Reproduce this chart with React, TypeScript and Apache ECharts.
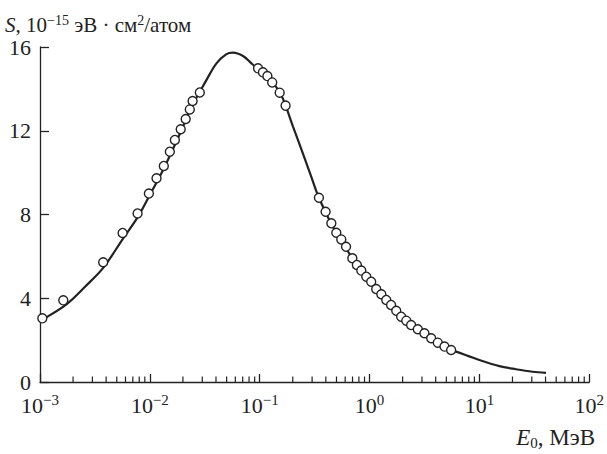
import React, { useEffect, useRef } from "react";
import * as echarts from "echarts";

// Smooth curve (E0 in MeV, S in 1e-15 eV·cm²/atom)
const curveE = [0.00115, 0.00175, 0.00257, 0.00376, 0.0057, 0.0077, 0.0098, 0.0134, 0.0191, 0.0245, 0.0285, 0.0327, 0.0404, 0.0498, 0.0571, 0.0705, 0.084, 0.0966, 0.1175, 0.152, 0.172, 0.201, 0.248, 0.295, 0.346, 0.449, 0.553, 0.697, 0.841, 1.035, 1.28, 1.57, 1.94, 2.39, 3.16, 4.18, 5.53, 6.13, 10, 15.2, 21.5, 30.5, 40.4];
const curveS = [3.1, 3.72, 4.55, 5.45, 6.85, 7.85, 8.85, 10.2, 11.95, 13.25, 13.85, 14.42, 15.22, 15.66, 15.73, 15.57, 15.22, 14.95, 14.6, 13.85, 13.2, 12.2, 10.9, 9.8, 8.8, 7.55, 6.78, 5.9, 5.3, 4.78, 4.18, 3.68, 3.12, 2.72, 2.33, 1.88, 1.53, 1.45, 1.05, 0.76, 0.61, 0.49, 0.44];

// Experimental points
const pointE = [0.00105, 0.00163, 0.00376, 0.00565, 0.00773, 0.0098, 0.0115, 0.0134, 0.0152, 0.0169, 0.0191, 0.0212, 0.0231, 0.0245, 0.0285, 0.0966, 0.107, 0.1175, 0.13, 0.152, 0.172, 0.346, 0.398, 0.449, 0.498, 0.553, 0.611, 0.697, 0.767, 0.841, 0.934, 1.035, 1.15, 1.28, 1.42, 1.57, 1.75, 1.94, 2.16, 2.39, 2.75, 3.16, 3.64, 4.18, 4.81, 5.53];
const pointS = [3.04, 3.9, 5.72, 7.12, 8.05, 9.0, 9.73, 10.32, 11.0, 11.56, 12.07, 12.56, 13.02, 13.42, 13.83, 14.98, 14.79, 14.61, 14.31, 13.82, 13.2, 8.8, 8.13, 7.58, 7.13, 6.81, 6.46, 5.91, 5.59, 5.32, 5.03, 4.79, 4.44, 4.19, 3.92, 3.68, 3.4, 3.12, 2.93, 2.72, 2.52, 2.33, 2.09, 1.88, 1.69, 1.53];

const yTicks = [0, 4, 8, 12, 16];
const decades = [0.001, 0.01, 0.1, 1, 10];
const minorMultipliers = [2, 3, 4, 5, 6, 7, 8, 9];

const FONT = "Liberation Serif";
const INK = "#222";

export default function App() {
  const ref = useRef<HTMLDivElement>(null);
  useEffect(() => {
    document.body.style.margin = "0";
    const chart = echarts.init(ref.current!, null, { renderer: "svg" });
    const minorTicks: number[][] = [];
    decades.forEach((d) => minorMultipliers.forEach((m) => minorTicks.push([d * m, 0])));

    chart.setOption({
      animation: false,
      backgroundColor: "#fff",
      textStyle: { fontFamily: FONT },
      grid: { left: 40, right: 17, top: 47, bottom: 72, containLabel: false },
      xAxis: {
        type: "log",
        logBase: 10,
        min: 0.001,
        max: 100,
        axisLine: { show: true, lineStyle: { color: INK, width: 1.3 } },
        axisTick: { show: true, inside: true, length: 8, lineStyle: { color: INK, width: 1.3 } },
        splitLine: { show: false },
        minorTick: { show: false },
        axisLabel: {
          margin: 10,
          showMinLabel: true,
          showMaxLabel: true,
          color: INK,
          fontFamily: FONT,
          formatter: (v: number) => {
            const e = Math.round(Math.log10(v));
            const s = e < 0 ? "\u2212" + -e : String(e);
            return "{b|10}{s|" + s + "}";
          },
          rich: {
            b: { fontSize: 22, fontFamily: FONT, color: INK },
            s: { fontSize: 15, fontFamily: FONT, color: INK, padding: [0, 0, 12, 0] },
          },
        },
      },
      yAxis: {
        type: "value",
        min: 0,
        max: 16,
        interval: 4,
        axisLine: { show: true, lineStyle: { color: INK, width: 1.3 } },
        axisTick: { show: true, inside: true, length: 9, lineStyle: { color: INK, width: 1.3 } },
        splitLine: { show: false },
        axisLabel: {
          margin: 9,
          color: INK,
          fontSize: 22,
          fontFamily: FONT,
          formatter: (v: number) => (yTicks.includes(v) ? String(v) : ""),
        },
      },
      series: [
        {
          type: "custom",
          silent: true,
          clip: false,
          data: minorTicks,
          renderItem: (_p: any, api: any) => {
            const pt = api.coord([api.value(0), 0]);
            return {
              type: "line",
              shape: { x1: pt[0], y1: pt[1], x2: pt[0], y2: pt[1] - 5.5 },
              style: { stroke: INK, lineWidth: 1.2 },
            };
          },
        },
        {
          type: "line",
          data: curveE.map((e, i) => [e, curveS[i]]),
          smooth: 0.35,
          showSymbol: false,
          lineStyle: { color: INK, width: 2.2 },
          z: 2,
        },
        {
          type: "scatter",
          data: pointE.map((e, i) => [e, pointS[i]]),
          symbol: "circle",
          symbolSize: 9,
          itemStyle: { color: "#fff", opacity: 1, borderColor: INK, borderWidth: 1.4 },
          z: 3,
        },
      ],
      graphic: [
        {
          type: "text",
          left: 5,
          top: 13,
          style: {
            text: "{i|S}{n|, 10}{s|\u221215}{n| эВ · см}{s|2}{n|/атом}",
            fill: INK,
            fontFamily: FONT,
            rich: {
              i: { fontSize: 21, fontFamily: FONT, fontStyle: "italic", fill: INK },
              n: { fontSize: 21, fontFamily: FONT, fill: INK },
              s: { fontSize: 14, fontFamily: FONT, fill: INK, padding: [0, 0, 10, 0] },
            },
          },
        },
        {
          type: "text",
          right: 12,
          top: 426,
          style: {
            text: "{i|E}{sub|0}{n|, МэВ}",
            fill: INK,
            fontFamily: FONT,
            rich: {
              i: { fontSize: 23, fontFamily: FONT, fontStyle: "italic", fill: INK },
              n: { fontSize: 23, fontFamily: FONT, fill: INK },
              sub: { fontSize: 15, fontFamily: FONT, fill: INK, padding: [10, 0, 0, 0] },
            },
          },
        },
      ],
    });
    return () => chart.dispose();
  }, []);
  return <div ref={ref} style={{ width: 607, height: 454 }} />;
}
